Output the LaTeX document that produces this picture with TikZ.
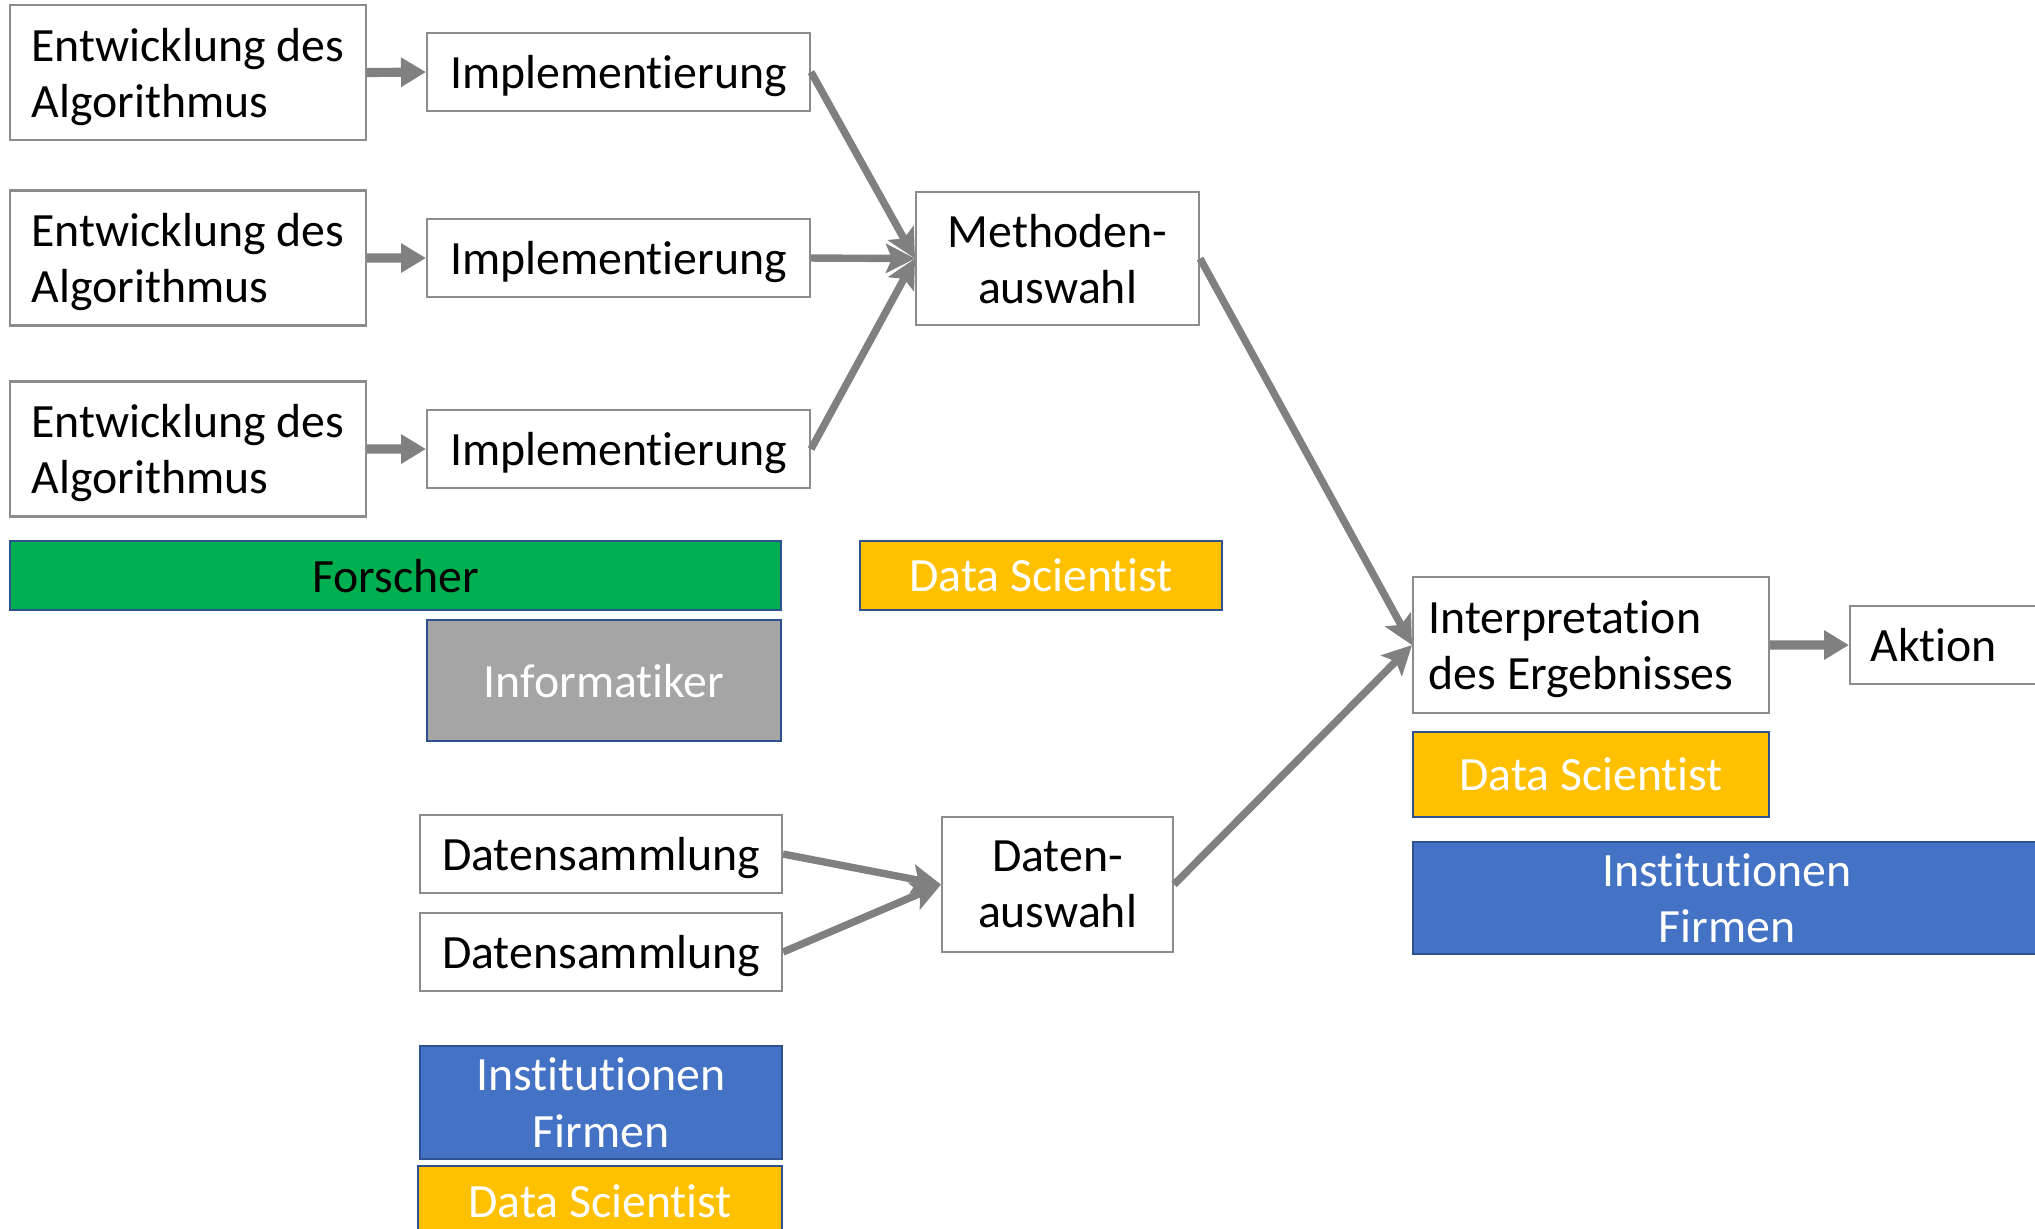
\documentclass[tikz,border=0pt]{standalone}
\usepackage{fontspec}
\setmainfont{Carlito}[Ligatures={NoCommon}]
\usetikzlibrary{arrows.meta}
\definecolor{linegray}{RGB}{128,128,128}
\definecolor{boxgray}{RGB}{140,140,140}
\definecolor{roleborder}{RGB}{47,82,143}
\definecolor{rgreen}{RGB}{0,176,80}
\definecolor{rgold}{RGB}{255,192,0}
\definecolor{rgrey}{RGB}{165,165,165}
\definecolor{rblue}{RGB}{68,114,196}
\tikzset{
  basefont/.style={font=\fontsize{27.2}{32}\selectfont},
  wbox/.style={basefont, text depth=0pt, draw=boxgray, line width=1.2pt, fill=white, inner sep=0pt, anchor=north west, align=center},
  lbox/.style={basefont, text depth=0pt, draw=boxgray, line width=1.2pt, fill=white, inner sep=0pt, anchor=north west, align=left},
  abox/.style={basefont, draw=boxgray, line width=1.2pt, fill=white, inner ysep=0pt, inner xsep=0.41cm, anchor=north west, align=left},
  role/.style={basefont, text depth=0pt, draw=roleborder, line width=1.2pt, inner sep=0pt, anchor=north west, align=center},
  shortarrow/.style={draw=linegray, line width=5.2pt, -{Triangle[length=0.5cm,width=0.56cm]}},
  diagarrow/.style={draw=linegray, line width=4.2pt, -{Stealth[length=0.58cm,width=0.58cm,inset=0.12cm]}}
}
\begin{document}
\begin{tikzpicture}[x=0.02cm,y=-0.02cm]
\clip (0,0) rectangle (2035,1229);
\fill[white] (0,0) rectangle (2035,1229);

% Entwicklung boxes
\node[lbox, minimum width=7.12cm, minimum height=2.70cm] (e1) at (9,4) {Entwicklung des\\Algorithmus};
\node[lbox, minimum width=7.12cm, minimum height=2.70cm] (e2) at (9,189.5) {Entwicklung des\\Algorithmus};
\node[lbox, minimum width=7.12cm, minimum height=2.70cm] (e3) at (9,380.5) {Entwicklung des\\Algorithmus};

% Implementierung boxes
\node[wbox, minimum width=7.66cm, minimum height=1.56cm] (i1) at (426,32) {Implementierung};
\node[wbox, minimum width=7.66cm, minimum height=1.56cm] (i2) at (426,218) {Implementierung};
\node[wbox, minimum width=7.66cm, minimum height=1.56cm] (i3) at (426,409) {Implementierung};

% Methodenauswahl
\node[wbox, minimum width=5.66cm, minimum height=2.66cm] (meth) at (915,191) {Methoden-\\auswahl};

% Roles
\node[role, fill=rgreen, text=black, minimum width=15.42cm, minimum height=1.38cm] (forscher) at (9,540) {Forscher};
\node[role, fill=rgold, text=white, minimum width=7.24cm, minimum height=1.38cm] (ds1) at (859,540) {Data Scientist};
\node[role, fill=rgrey, text=white, minimum width=7.08cm, minimum height=2.42cm] (inf) at (426,619) {Informatiker};

% Datensammlung
\node[wbox, minimum width=7.24cm, minimum height=1.56cm] (d1) at (419,814) {Datensammlung};
\node[wbox, minimum width=7.24cm, minimum height=1.56cm] (d2) at (419,912) {Datensammlung};

% Datenauswahl
\node[wbox, minimum width=4.62cm, minimum height=2.70cm] (daus) at (941,816) {Daten-\\auswahl};

% Bottom roles
\node[role, fill=rblue, text=white, minimum width=7.24cm, minimum height=2.26cm] (inst1) at (419,1045) {Institutionen\\Firmen};
\node[role, fill=rgold, text=white, minimum width=7.28cm, minimum height=1.42cm] (ds3) at (417,1165) {Data Scientist};

% Interpretation
\node[lbox, minimum width=7.12cm, minimum height=2.72cm] (interp) at (1412,576) {Interpretation\\des Ergebnisses\hspace*{0.4cm}\mbox{}};
\node[abox, text width=3.4cm, minimum height=1.56cm] (aktion) at (1849,605) {Aktion};

\node[role, fill=rgold, text=white, minimum width=7.12cm, minimum height=1.70cm] (ds2) at (1412,731) {Data Scientist};
\node[role, fill=rblue, text=white, minimum width=12.56cm, minimum height=2.24cm] (inst2) at (1412,841) {Institutionen\\Firmen};

% Connectors
\draw[shortarrow] (e1.east) -- (i1.west);
\draw[shortarrow] (e2.east) -- (i2.west);
\draw[shortarrow] (e3.east) -- (i3.west);
\draw[diagarrow] (i1.east) -- (meth.west);
\draw[diagarrow] (i2.east) -- (meth.west);
\draw[diagarrow] (i3.east) -- (meth.west);
\draw[diagarrow] (meth.east) -- (interp.west);
\draw[diagarrow] (d1.east) -- (daus.west);
\draw[diagarrow] (d2.east) -- (daus.west);
\draw[diagarrow] (daus.east) -- (interp.west);
\draw[shortarrow] (interp.east) -- (aktion.west);
\end{tikzpicture}
\end{document}
